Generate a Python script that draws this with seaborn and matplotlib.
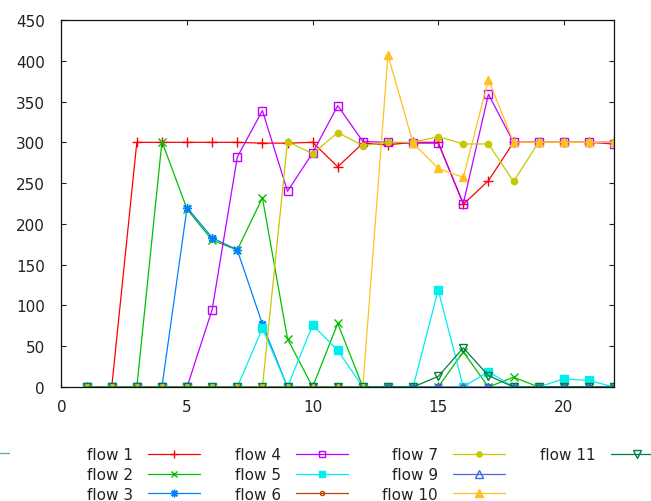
"""
Per-step throughput of each flow (gnuplot-like look, rebuilt with seaborn).
"""
import matplotlib
matplotlib.use("Agg")
import matplotlib.pyplot as plt
import seaborn as sns
from matplotlib.lines import Line2D

# ─────────────────────────────────────────────
# Data
# ─────────────────────────────────────────────
steps = list(range(1, 23))

flow_1 = [0, 0, 300, 300, 300, 300, 300, 299, 299, 300, 270, 299, 297, 300, 300, 224, 253, 300, 300, 300, 300, 300]
flow_2 = [0, 0, 0, 301, 218, 180, 168, 232, 59, 0, 78, 0, 0, 0, 0, 43, 0, 12, 0, 0, 0, 0]
flow_3 = [0, 0, 0, 0, 220, 183, 168, 77, 0, 0, 0, 0, 0, 0, 0, 0, 0, 0, 0, 0, 0, 0]
flow_4 = [0, 0, 0, 0, 0, 95, 282, 339, 240, 287, 345, 301, 300, 299, 299, 225, 359, 300, 300, 300, 300, 298]
flow_5 = [0, 0, 0, 0, 0, 0, 0, 72, 0, 76, 45, 0, 0, 0, 119, 0, 19, 0, 0, 10, 8, 0]
flow_6 = [0] * 22
flow_7 = [0, 0, 0, 0, 0, 0, 0, 0, 301, 286, 312, 296, 300, 300, 307, 298, 298, 252, 300, 300, 300, 300]
flow_9 = [0] * 22
flow_10 = [0, 0, 0, 0, 0, 0, 0, 0, 0, 0, 0, 0, 407, 299, 268, 257, 377, 300, 300, 300, 300, 300]
flow_11 = [0, 0, 0, 0, 0, 0, 0, 0, 0, 0, 0, 0, 0, 0, 13, 48, 14, 0, 0, 0, 0, 0]

flow_names = ["flow 1", "flow 2", "flow 3", "flow 4", "flow 5",
              "flow 6", "flow 7", "flow 9", "flow 10", "flow 11"]
flow_values = [flow_1, flow_2, flow_3, flow_4, flow_5,
               flow_6, flow_7, flow_9, flow_10, flow_11]

x_ticks = [0, 5, 10, 15, 20]
y_ticks = list(range(0, 451, 50))

# gnuplot classic line types: colour, marker, size, filled
STYLES = [
    ('#ff0000', '+', 7, True),
    ('#00c000', 'x', 5.5, True),
    ('#0080ff', (8, 2, 0), 6.5, True),
    ('#c000ff', 's', 5.5, False),
    ('#00eeee', 's', 5.5, True),
    ('#c04000', 'o', 3.5, False),
    ('#c8c800', 'o', 4.5, True),
    ('#4169e1', '^', 6, False),
    ('#ffc020', '^', 6, True),
    ('#008040', 'v', 6, False),
]

sns.set_theme(style="ticks")
plt.rcParams.update({
    'font.family': ['DejaVu Sans'],
    'font.size': 11,
    'text.color': '#222222',
    'xtick.color': '#222222',
    'ytick.color': '#222222',
    'axes.edgecolor': '#111111',
    'axes.linewidth': 0.9,
})

fig = plt.figure(figsize=(6.51, 5.02), dpi=100)
ax = fig.add_axes([61.5 / 651, 1 - 388 / 502, (614 - 61.5) / 651, (388 - 21) / 502])

for name, vals, (col, mk, ms, filled) in zip(flow_names, flow_values, STYLES):
    sns.lineplot(x=steps, y=vals, ax=ax, color=col, linewidth=0.9,
                 marker=mk, markersize=ms, markeredgewidth=1.0,
                 markeredgecolor=col, markerfacecolor=col if filled else 'none',
                 label=name, legend=False)

ax.set_xlim(0, 22)
ax.set_ylim(0, 450)
ax.set_xticks(x_ticks)
ax.set_yticks(y_ticks)
ax.tick_params(direction='in', top=True, right=True, length=3.5, width=0.8,
               labelsize=11)
ax.tick_params(axis='y', pad=12)
ax.tick_params(axis='x', pad=9)
ax.grid(False)

# Legend below the plot, labels left of the samples, 3 rows
handles, labels = ax.get_legend_handles_labels()
blank = Line2D([], [], linestyle='none')
handles = handles + [blank, blank]
labels = labels + ['', '']
fig.legend(handles, labels, ncols=4, loc='upper left',
           bbox_to_anchor=(87 / 651, 1 - 448.5 / 502), markerfirst=False,
           frameon=False, borderpad=0, borderaxespad=0, numpoints=1,
           markerscale=0.85, handlelength=3.4, handletextpad=1.0,
           columnspacing=2.25, labelspacing=0.3, fontsize=11)

# cropped sample of a key entry at the far left edge
ghost = Line2D([], [], color='#008040', alpha=0.6, linewidth=1.0)
fig.legend([ghost], [''], loc='center right', bbox_to_anchor=(9 / 651, 1 - 455 / 502),
           frameon=False, borderpad=0, borderaxespad=0, handlelength=3.4,
           markerfirst=False)

fig.savefig("out.png", dpi=100)
plt.close(fig)
